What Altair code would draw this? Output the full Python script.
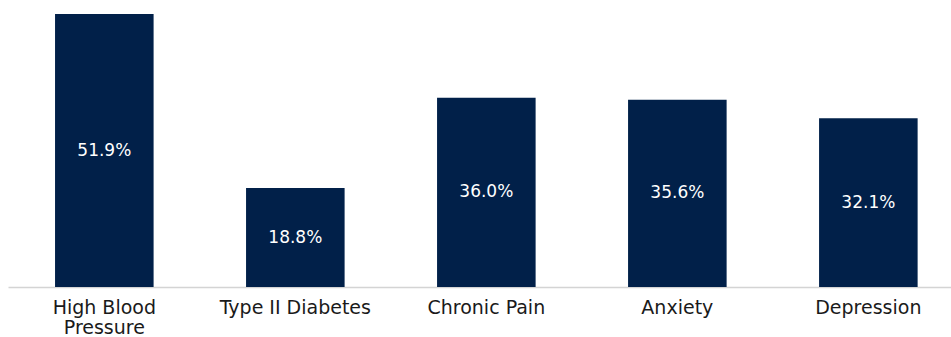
import altair as alt
import pandas as pd

categories = ["High Blood|Pressure", "Type II Diabetes", "Chronic Pain", "Anxiety", "Depression"]
values = [51.9, 18.8, 36.0, 35.6, 32.1]

df = pd.DataFrame({"cat": categories, "value": values})
df["label"] = [f"{v:.1f}%" for v in values]
df["mid"] = df["value"] / 2

x = alt.X(
    "cat:N",
    sort=categories,
    scale=alt.Scale(domain=categories, paddingInner=0.484, paddingOuter=0.2105, align=0.585),
    axis=alt.Axis(
        title=None,
        labelAngle=0,
        labelExpr="split(datum.label, '|')",
        labelFont="DejaVu Sans",
        labelFontSize=19,
        labelLineHeight=20.5,
        labelColor="#1a1a1a",
        labelPadding=11,
        ticks=False,
        domainColor="#d4d4d4",
        domainWidth=1.5,
        grid=False,
    ),
)

bars = alt.Chart(df).mark_bar(color="#012049").encode(
    x=x,
    y=alt.Y("value:Q", scale=alt.Scale(domain=[0, 51.9], nice=False, zero=True), axis=None),
)

text = alt.Chart(df).mark_text(
    color="white", font="DejaVu Sans", fontSize=17, baseline="middle", align="center"
).encode(
    x=x,
    y=alt.Y("mid:Q", scale=alt.Scale(domain=[0, 51.9], nice=False, zero=True), axis=None),
    text="label:N",
)

chart = (
    alt.layer(bars, text)
    .properties(
        width=943,
        height=273,
        padding={"left": 8, "top": 14, "right": 0, "bottom": 50},
        autosize=alt.AutoSizeParams(type="none"),
        background="white",
    )
    .configure_view(stroke=None)
)

chart.save("out.html", embed_options={"renderer": "svg", "actions": False})
